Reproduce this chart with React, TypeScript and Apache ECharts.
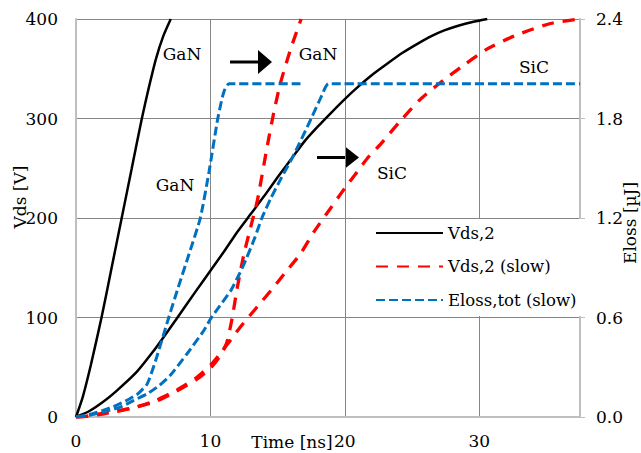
import React, { useEffect, useRef } from "react";
import * as echarts from "echarts";

const xTicks = { min: 0, max: 37.5, interval: 10 };
const vTicks = { min: 0, max: 400, interval: 100 };
const eTicks = { min: 0, max: 2.4, interval: 0.6 };
const legendNames = ["Vds,2", "Vds,2 (slow)", "Eloss,tot (slow)"];

const vdsGaN: [number, number][] = [
  [0, 0], [0.5, 20], [1.1, 52], [1.9, 100], [2.65, 150], [3.4, 200], [4.15, 250],
  [4.9, 300], [5.4, 330], [5.95, 360], [6.5, 383], [7.05, 400],
];
const vdsSiC: [number, number][] = [
  [0, 0], [1, 6], [2, 15], [3, 26], [4.5, 45], [5.75, 66], [6.5, 80], [7.5, 99], [9, 128],
  [10, 147], [11, 166], [12, 186], [13, 204], [14, 222], [15, 241], [16, 259], [17, 277],
  [18, 292], [19, 306], [20, 319.5], [21, 332], [22, 343.5], [23.15, 355], [24.3, 366],
  [25.4, 375], [26.4, 382.5], [27.4, 388.5], [28.5, 393.5], [29.5, 397], [30.6, 400],
];
const vdsSlowGaN: [number, number][] = [
  [0, 0], [1, 1], [2, 4], [3, 6], [4.5, 10], [6, 16], [7.5, 26], [9, 38], [10, 49],
  [10.7, 61], [11.2, 74], [11.6, 98], [12, 130], [12.5, 164], [13, 191], [13.5, 218],
  [14.2, 270], [14.7, 305], [15.2, 335], [15.95, 369], [16.75, 400],
];
const vdsSlowSiC: [number, number][] = [
  [0, 0], [1, 1], [2, 3], [3, 5.5], [4.5, 10], [6, 17], [7.5, 27], [9, 40], [10.2, 55],
  [11.2, 72], [12.2, 90], [13.5, 111], [14.5, 127], [15.5, 144], [16.7, 164], [17.7, 186],
  [18.9, 209], [20, 230], [20.9, 246], [21.8, 262], [22.65, 274], [24.1, 297], [25.6, 319],
  [27.1, 336], [28.9, 354], [30.6, 370], [32.8, 384], [35.3, 395.5], [37.5, 400],
];
const elossGaN: [number, number][] = [
  [0, 0], [1, 0.015], [2, 0.04], [3, 0.07], [4, 0.11], [4.6, 0.14], [5.3, 0.2], [6, 0.36],
  [6.9, 0.6], [7.6, 0.78], [8.4, 0.98], [9.25, 1.2], [9.9, 1.48], [10.55, 1.8], [11, 1.96],
  [11.4, 2.01], [16.9, 2.01],
];
const elossSiC: [number, number][] = [
  [0, 0], [1, 0.01], [2, 0.03], [3.3, 0.06], [4.3, 0.1], [5.3, 0.14], [6.2, 0.19],
  [7, 0.25], [8.25, 0.38], [9.5, 0.52], [10, 0.59], [10.7, 0.67], [11.5, 0.76], [12.2, 0.87],
  [12.7, 0.96], [13.3, 1.08], [13.83, 1.2], [14.5, 1.32], [15.2, 1.43], [16.2, 1.58],
  [17.5, 1.8], [18.3, 1.94], [18.8, 2.01], [37.5, 2.01],
];

const FONT = "DejaVu Serif";
const FS = 17;

export default function App() {
  const ref = useRef<HTMLDivElement>(null);
  useEffect(() => {
    document.body.style.margin = "0";
    const chart = echarts.init(ref.current!, null, { renderer: "svg" });
    const textStyle = { fontFamily: FONT, fontSize: FS, color: "#000" };
    const lineSeries = (name: string, data: [number, number][], color: string, width: number, type: any, yAxisIndex: number) => ({
      type: "line",
      name,
      data,
      yAxisIndex,
      symbol: "none",
      showSymbol: false,
      smooth: 0.2,
      lineStyle: { color, width, type },
      itemStyle: { color },
      silent: true,
    });
    const arrow = (x0: number, x1: number, y: number, tip: number, h: number) => [
      { type: "line", shape: { x1: x0, y1: y, x2: x1 + 1, y2: y }, style: { stroke: "#000", lineWidth: 3 } },
      { type: "polygon", shape: { points: [[x1, y - h], [tip, y], [x1, y + h]] }, style: { fill: "#000" } },
    ];
    const label = (text: string, x: number, y: number, rotation = 0) => ({
      type: "text",
      x, y, rotation,
      style: { text, fontFamily: FONT, fontSize: FS, fill: "#000", align: "center", verticalAlign: "middle" },
    });
    chart.setOption({
      animation: false,
      grid: { left: 76, right: 61, top: 19, bottom: 36 },
      legend: {
        data: legendNames,
        orient: "vertical",
        left: 366,
        top: 219,
        padding: [4, 9, 6, 9],
        itemGap: 13.5,
        itemWidth: 67,
        itemHeight: 14,
        backgroundColor: "#fff",
        itemStyle: { opacity: 0 },
        textStyle: { ...textStyle, fontSize: 16.5, lineHeight: 20 },
        selectedMode: false,
      },
      xAxis: {
        type: "value",
        ...xTicks,
        axisLine: { show: true, lineStyle: { color: "#BFBFBF", width: 2 } },
        axisTick: { show: false },
        axisLabel: { ...textStyle, margin: 15, showMaxLabel: false },
        splitLine: { show: true, showMinLine: false, showMaxLine: false, lineStyle: { color: "#868686", width: 1 } },
      },
      yAxis: [
        {
          type: "value",
          ...vTicks,
          axisLine: { show: true, lineStyle: { color: "#BFBFBF", width: 2 } },
          axisTick: { show: false },
          axisLabel: { ...textStyle, margin: 18 },
          splitLine: { show: true, showMinLine: false, lineStyle: { color: "#868686", width: 1 } },
        },
        {
          type: "value",
          position: "right",
          ...eTicks,
          axisLine: { show: true, lineStyle: { color: "#BFBFBF", width: 2 } },
          axisTick: { show: true, length: 5, lineStyle: { color: "#BFBFBF", width: 1 } },
          axisLabel: { ...textStyle, margin: 16, formatter: (v: number) => v.toFixed(1) },
          splitLine: { show: false },
        },
      ],
      series: [
        lineSeries("Vds,2", vdsGaN, "#000000", 2.5, "solid", 0),
        lineSeries("Vds,2", vdsSiC, "#000000", 2.5, "solid", 0),
        lineSeries("Vds,2 (slow)", vdsSlowGaN, "#FF0000", 3.3, [12, 9], 0),
        lineSeries("Vds,2 (slow)", vdsSlowSiC, "#FF0000", 3.3, [12, 9], 0),
        lineSeries("Eloss,tot (slow)", elossGaN, "#0070C0", 3, [9, 4], 1),
        lineSeries("Eloss,tot (slow)", elossSiC, "#0070C0", 3, [9, 4], 1),
      ],
      graphic: [
        label("GaN", 182, 54),
        label("GaN", 175, 185),
        label("GaN", 318, 54),
        label("SiC", 392, 173),
        label("SiC", 534, 67),
        ...arrow(230, 258, 62, 272, 12),
        ...arrow(317, 345, 157.5, 359, 11),
        label("Vds [V]", 20, 197, Math.PI / 2),
        label("Eloss [µJ]", 630, 223, Math.PI / 2),
        label("Time [ns]", 292, 442),
      ],
    });
    return () => chart.dispose();
  }, []);
  return <div ref={ref} style={{ width: 641, height: 453, position: "absolute", left: 0, top: 0 }} />;
}
